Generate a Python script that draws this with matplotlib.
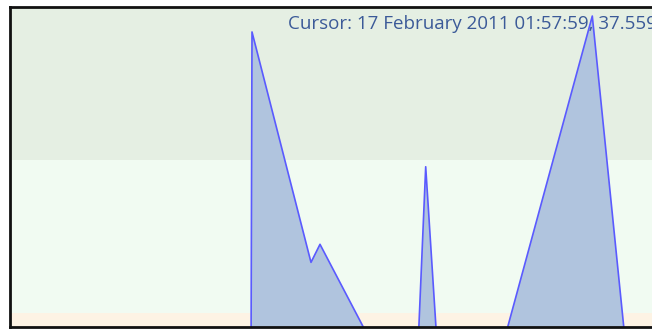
import matplotlib
matplotlib.use("Agg")
import matplotlib.pyplot as plt

# sample times (minutes from the start of the window) and readings
times = [0, 241, 242, 301, 310, 370, 407.5, 415.7, 428, 489, 582.3, 617, 660]
values = [17.0, 17.0, 38.37, 23.31, 24.49, 17.0, 17.0, 29.56, 17.0, 17.0, 39.41, 17.0, 17.0]

# alarm bands: (low, high, colour)
bands = [
    (0, 20, "#fdf3e4"),
    (20, 30, "#f1fbf2"),
    (30, 45, "#e5efe3"),
]

cursor_label = "Cursor: 17 February 2011 01:57:59, 37.559"

fig = plt.figure(figsize=(6.52, 3.29), dpi=100)
ax = fig.add_axes([10 / 652, 2 / 329, 642 / 652, 320 / 329])

for lo, hi, col in bands:
    ax.axhspan(lo, hi, color=col, lw=0, zorder=0)

ax.fill_between(times, values, 0, color="#b0c4de", lw=0, zorder=1)
ax.plot(times, values, color="#5a5aff", lw=1.2, zorder=2)

ax.set_xlim(0, 642)
ax.set_ylim(40 - 320 / 15.3, 40)
ax.set_xticks([])
ax.set_yticks([])
for side in ["left", "top", "bottom"]:
    ax.spines[side].set_linewidth(2)
    ax.spines[side].set_color("#111111")
ax.spines["right"].set_visible(False)

fig.text(288 / 652, 1 - 29 / 329, cursor_label, color="#3b5a98",
         fontsize=13.5, family="Open Sans", ha="left", va="baseline")

fig.savefig("out.png", dpi=100)
